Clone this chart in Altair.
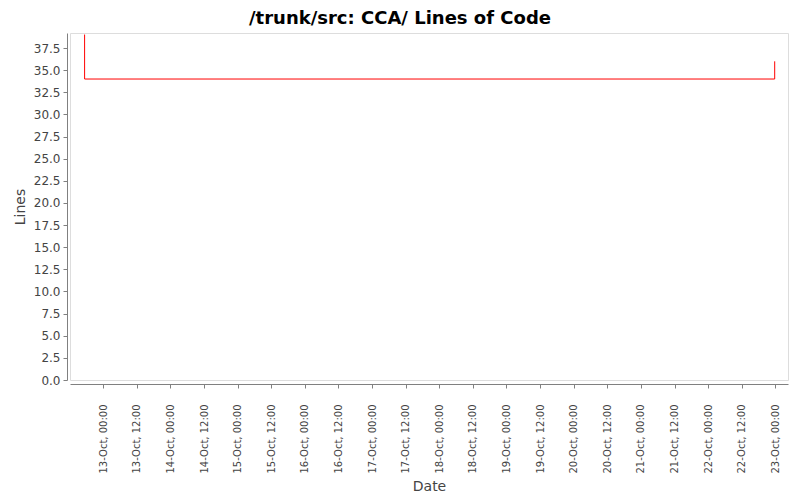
import altair as alt
import pandas as pd

# data (step line)
dates = ["2007-10-12T17:12:00Z", "2007-10-12T17:20:00Z", "2007-10-22T23:47:00Z"]
lines = [39, 34, 36]

# tick positions: every 12 hours from 13-Oct 00:00 to 23-Oct 00:00
tick_days = [13, 13, 14, 14, 15, 15, 16, 16, 17, 17, 18, 18, 19, 19, 20, 20, 21, 21, 22, 22, 23]
tick_hours = [0, 12, 0, 12, 0, 12, 0, 12, 0, 12, 0, 12, 0, 12, 0, 12, 0, 12, 0, 12, 0]
y_ticks = [0, 2.5, 5, 7.5, 10, 12.5, 15, 17.5, 20, 22.5, 25, 27.5, 30, 32.5, 35, 37.5]

df = pd.DataFrame({"date": dates, "lines": lines})

x_values = [alt.DateTime(year=2007, month=10, date=d, hours=h, utc=True)
            for d, h in zip(tick_days, tick_hours)]

FONT = "DejaVu Sans"
GRAY = "#808080"
LABEL = "#444444"

chart = alt.Chart(df).mark_line(
    interpolate="step-after", color="#FF0000", strokeWidth=1
).encode(
    x=alt.X(
        "date:T",
        title="Date",
        scale=alt.Scale(
            type="utc",
            domain=[alt.DateTime(year=2007, month=10, date=12, hours=12, minutes=7, utc=True),
                    alt.DateTime(year=2007, month=10, date=23, hours=4, minutes=32, utc=True)],
        ),
        axis=alt.Axis(
            values=x_values, labelExpr="utcFormat(datum.value, '%d-%b, %H:%M')",
            labelAngle=-90, labelFontSize=10, labelColor=LABEL, labelFont=FONT,
            labelPadding=16, offset=4, grid=False, tickSize=4, tickColor=GRAY,
            domainColor=GRAY, titleFont=FONT, titleFontSize=14, titleColor=LABEL,
            titleFontWeight="normal", labelOverlap=False, labelFlush=False,
            titleY=95, titleBaseline="top",
        ),
    ),
    y=alt.Y(
        "lines:Q",
        title="Lines",
        scale=alt.Scale(domain=[0, 39.2], nice=False, zero=True),
        axis=alt.Axis(
            values=y_ticks, format=".1f", labelFontSize=12, labelColor=LABEL,
            labelFont=FONT, offset=3, grid=False, tickSize=4, tickColor=GRAY,
            domainColor=GRAY, titleFont=FONT, titleFontSize=14, titleColor=LABEL,
            titleFontWeight="normal", labelPadding=3, titlePadding=6,
        ),
    ),
).properties(
    width=718,
    height=347,
    padding={"left": 62, "top": 25, "right": 4, "bottom": 117},
    autosize=alt.AutoSizeParams(type="none"),
    title=alt.TitleParams(
        "/trunk/src: CCA/ Lines of Code",
        font=FONT, fontSize=18, fontWeight="bold", color="#000000",
        anchor="middle", dx=-29, offset=5,
    ),
).configure_view(
    stroke=GRAY, strokeWidth=1
).configure(background="white")

chart.save("out.html", embed_options={"renderer": "svg", "actions": False})
